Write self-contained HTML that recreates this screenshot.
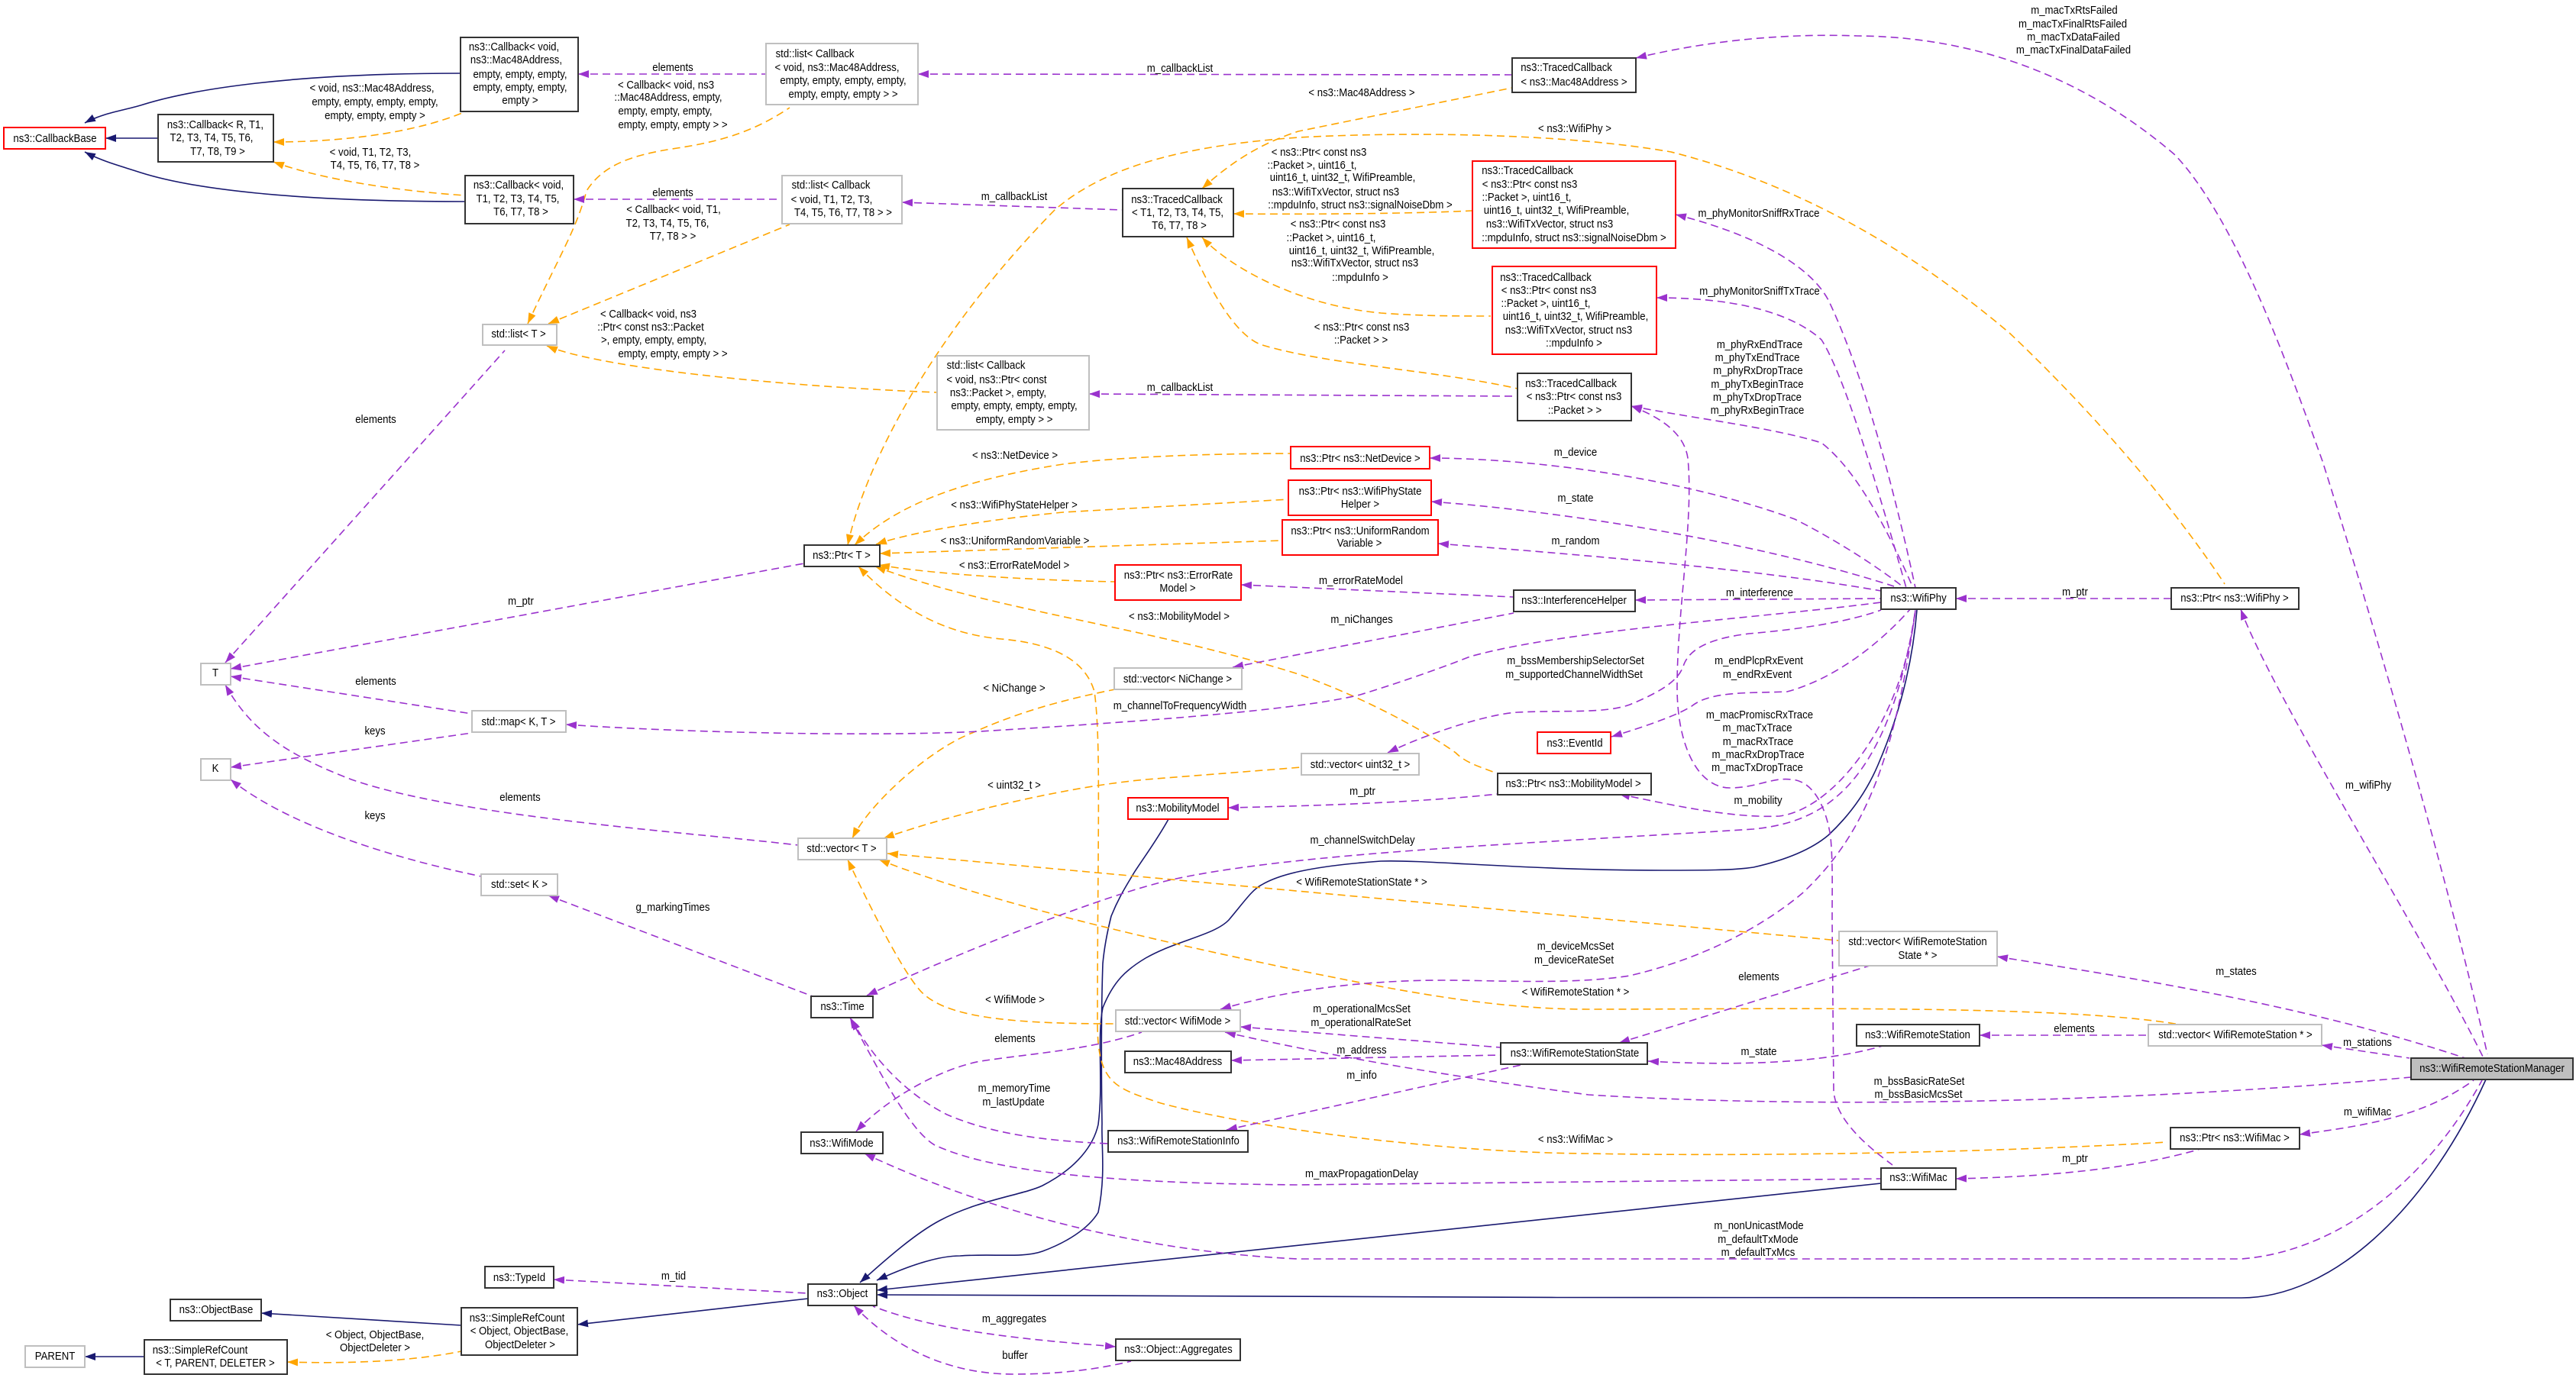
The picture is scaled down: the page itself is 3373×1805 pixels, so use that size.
<!DOCTYPE html>
<html><head><meta charset="utf-8"><title>ns3::WifiRemoteStationManager</title>
<style>
html,body{margin:0;padding:0;background:#fff;width:3373px;height:1805px;overflow:hidden}
svg{display:block}
text{font-family:"Liberation Sans",sans-serif;font-size:15px;fill:#000;text-anchor:middle;transform-box:fill-box;transform-origin:50% 50%;transform:scaleX(.88)}
.e path{fill:none;stroke-width:1.6;stroke-linejoin:round}
.p path{stroke:#9a32cd;stroke-dasharray:10 6}
.o path{stroke:#ffa500;stroke-dasharray:10 6}
.b path{stroke:#191970}
rect{fill:#fff;stroke-width:2}
.k rect{stroke:#333}
.g rect{stroke:#bfbfbf}
.r rect{stroke:#f00}
</style></head><body>
<svg xmlns="http://www.w3.org/2000/svg" width="3373" height="1805" viewBox="0 0 3373 1805">
<defs>
<marker id="mp" markerUnits="userSpaceOnUse" markerWidth="16" markerHeight="12" refX="14" refY="6" orient="auto-start-reverse"><path d="M0,1L14,6L0,11z" fill="#9a32cd"/></marker>
<marker id="mo" markerUnits="userSpaceOnUse" markerWidth="16" markerHeight="12" refX="14" refY="6" orient="auto-start-reverse"><path d="M0,1L14,6L0,11z" fill="#ffa500"/></marker>
<marker id="mb" markerUnits="userSpaceOnUse" markerWidth="16" markerHeight="12" refX="14" refY="6" orient="auto-start-reverse"><path d="M0,1L14,6L0,11z" fill="#191970"/></marker>
</defs>

<g class="e b" marker-start="url(#mb)">
<path d="M111,161C135,148 160,145 184,138C250,117 380,96 603,96"/>
<path d="M138,181L207,181"/>
<path d="M111,199C135,212 160,218 184,226C250,247 380,264 609,264"/>
<path d="M342,1720L604,1736"/>
<path d="M111,1777L189,1777"/>
<path d="M756,1735L1058,1701"/>
<path d="M1148,1690L2463,1550"/>
<path d="M1148,1696C1400,1700 2700,1700 2935,1700C3050,1700 3175,1590 3255,1414"/>
<path d="M1148,1677C1185,1660 1225,1645 1257,1645C1300,1642 1340,1648 1365,1639C1395,1628 1425,1610 1438,1588C1448,1540 1442,1500 1443,1472C1442,1400 1442,1320 1444,1262C1446,1240 1450,1220 1455,1200C1465,1175 1475,1160 1485,1143C1500,1120 1515,1100 1530,1073"/>
<path d="M1126,1680C1165,1645 1200,1615 1230,1599C1280,1572 1340,1565 1365,1553C1410,1530 1432,1500 1438,1473C1445,1420 1436,1360 1444,1320C1458,1285 1475,1270 1500,1255C1540,1232 1590,1225 1609,1205C1630,1180 1640,1165 1652,1159C1672,1147 1710,1135 1808,1128C1870,1126 2000,1140 2177,1140C2230,1140 2270,1140 2296,1136C2345,1125 2375,1110 2394,1094C2425,1065 2445,1035 2459,1002C2490,930 2505,860 2510,799"/>
</g>

<g class="e o" marker-start="url(#mo)">
<path d="M358,186C420,186 530,180 610,146"/>
<path d="M358,212C420,235 520,250 609,256"/>
<path d="M691,424C730,340 755,300 768,250C790,215 830,203 880,195C950,185 990,170 1034,141"/>
<path d="M718,424L1034,294"/>
<path d="M716,453C780,480 1000,505 1227,514"/>
<path d="M1574,247C1620,205 1660,185 1700,172L1980,115"/>
<path d="M1110,714C1130,620 1210,450 1381,275C1450,215 1560,190 1700,180C1850,172 2050,175 2188,199C2350,240 2500,325 2631,436C2720,520 2830,640 2913,765"/>
<path d="M1615,280C1700,281 1850,280 1928,276"/>
<path d="M1574,311C1610,350 1700,400 1808,410C1860,414 1910,414 1952,414"/>
<path d="M1554,311C1580,370 1615,440 1653,452C1740,478 1880,485 1987,509"/>
<path d="M1119,714C1170,665 1250,630 1392,608C1470,598 1590,594 1690,594"/>
<path d="M1147,713C1200,695 1300,680 1392,671L1688,654"/>
<path d="M1152,725L1679,708"/>
<path d="M1151,740C1220,752 1350,760 1460,762"/>
<path d="M1146,742C1300,800 1500,820 1700,883C1790,915 1870,960 1906,986C1920,1000 1940,1005 1960,1013"/>
<path d="M1124,742C1170,790 1230,830 1311,837C1370,842 1420,860 1433,906C1442,970 1437,1100 1437,1340C1437,1420 1460,1425 1520,1445C1650,1480 1900,1510 2080,1511C2300,1515 2600,1510 2838,1496"/>
<path d="M1116,1098C1140,1050 1220,980 1273,960C1340,930 1400,915 1460,903"/>
<path d="M1157,1098C1250,1065 1400,1030 1501,1021L1704,1005"/>
<path d="M1162,1118L2408,1232"/>
<path d="M1151,1126C1300,1185 1550,1240 1700,1271C1820,1295 1950,1322 2080,1322C2300,1322 2700,1315 2854,1342"/>
<path d="M1110,1126C1140,1190 1190,1290 1213,1305C1250,1335 1340,1341 1461,1341"/>
<path d="M376,1784C440,1786 530,1785 604,1770"/>
</g>

<g class="e p" marker-start="url(#mp)">
<path d="M757,97L1003,97"/>
<path d="M751,261L1024,261"/>
<path d="M1202,97L1980,98"/>
<path d="M1181,265L1470,275"/>
<path d="M1426,516L1987,519"/>
<path d="M2142,76C2250,50 2350,44 2432,47C2600,48 2740,110 2848,203C2930,290 3000,490 3041,604C3100,790 3200,1130 3257,1381"/>
<path d="M2194,281C2290,305 2370,345 2395,395C2440,490 2480,640 2508,770"/>
<path d="M2169,390C2260,390 2340,405 2385,445C2420,500 2470,680 2496,770"/>
<path d="M2136,532C2230,550 2320,560 2385,580C2430,615 2470,690 2505,770"/>
<path d="M2136,532C2170,545 2205,565 2210,600C2218,680 2196,800 2196,900C2196,980 2225,1032 2265,1032C2300,1032 2320,1018 2345,1021C2375,1022 2392,1060 2397,1097C2400,1130 2399,1160 2399,1205L2401,1430C2405,1470 2450,1505 2478,1526"/>
<path d="M1872,600C2000,600 2200,625 2350,680C2400,705 2455,740 2491,768"/>
<path d="M1874,657C2050,670 2300,710 2480,768"/>
<path d="M1883,712C2050,725 2300,745 2463,774"/>
<path d="M1625,766L1982,782"/>
<path d="M2141,786L2463,784"/>
<path d="M1614,874L1982,803"/>
<path d="M741,949C900,960 1150,965 1283,958C1500,945 1700,930 1781,910C1840,892 1900,870 1925,860C2050,825 2300,810 2463,789"/>
<path d="M1817,986C1870,960 1950,935 1987,933C2050,930 2100,935 2134,923C2190,900 2200,885 2205,870C2215,845 2250,835 2290,830C2350,825 2420,815 2463,799"/>
<path d="M2110,965C2160,950 2200,935 2215,925C2240,905 2290,908 2340,906C2400,890 2460,845 2502,797"/>
<path d="M2120,1040C2190,1055 2270,1072 2330,1069C2400,1060 2490,950 2508,799"/>
<path d="M1608,1058C1700,1056 1850,1052 1961,1040"/>
<path d="M1135,1304C1250,1250 1450,1170 1540,1151C1700,1117 2000,1105 2296,1086C2370,1078 2470,1050 2508,799"/>
<path d="M1598,1322C1680,1298 1780,1284 1890,1284C1960,1284 2060,1290 2134,1278C2220,1258 2300,1220 2360,1170C2440,1095 2480,1000 2508,799"/>
<path d="M2120,1366L2448,1265"/>
<path d="M1624,1345L1965,1372"/>
<path d="M1604,1352C1750,1385 1900,1410 2080,1434C2300,1448 2700,1452 3157,1411"/>
<path d="M1612,1389L1965,1382"/>
<path d="M1606,1480L1996,1394"/>
<path d="M2158,1390C2230,1394 2370,1398 2465,1370"/>
<path d="M2592,1356L2813,1356"/>
<path d="M3040,1369L3155,1386"/>
<path d="M2615,1253C2750,1275 3000,1310 3228,1386"/>
<path d="M2934,798C2975,910 3170,1220 3252,1386"/>
<path d="M2561,784L2843,784"/>
<path d="M3011,1486C3090,1475 3170,1465 3239,1415"/>
<path d="M2561,1544C2650,1542 2780,1535 2881,1505"/>
<path d="M1132,1511C1300,1590 1500,1640 1700,1649L2935,1649C3050,1640 3170,1560 3250,1415"/>
<path d="M1113,1333C1150,1400 1190,1480 1224,1500C1300,1535 1450,1550 1700,1552L2463,1544"/>
<path d="M1115,1335C1150,1400 1200,1440 1240,1460C1310,1490 1390,1495 1451,1498"/>
<path d="M1121,1482C1160,1440 1230,1400 1284,1390C1350,1380 1430,1375 1495,1352"/>
<path d="M302,876L1053,738"/>
<path d="M302,886L618,935"/>
<path d="M302,1005L618,960"/>
<path d="M295,868L661,459"/>
<path d="M295,897C330,960 380,990 460,1021C600,1070 900,1090 1045,1107"/>
<path d="M302,1021C350,1060 450,1110 630,1148"/>
<path d="M718,1173L1064,1305"/>
<path d="M725,1676L1058,1694"/>
<path d="M1461,1764C1350,1755 1230,1745 1143,1711"/>
<path d="M1118,1710C1160,1755 1230,1800 1327,1800C1390,1800 1440,1793 1481,1783"/>
</g>

<g class="k">
<rect x="207" y="150" width="151" height="62"/>
<rect x="603" y="49" width="154" height="97"/>
<rect x="609" y="230" width="142" height="63"/>
<rect x="1470" y="247" width="145" height="63"/>
<rect x="1980" y="76" width="162" height="45"/>
<rect x="1987" y="489" width="149" height="62"/>
<rect x="1053" y="714" width="99" height="28"/>
<rect x="2463" y="770" width="98" height="28"/>
<rect x="1982" y="773" width="159" height="28"/>
<rect x="1961" y="1013" width="201" height="28"/>
<rect x="2843" y="770" width="167" height="28"/>
<rect x="1062" y="1305" width="81" height="28"/>
<rect x="1473" y="1377" width="139" height="28"/>
<rect x="1451" y="1481" width="183" height="28"/>
<rect x="1049" y="1483" width="107" height="28"/>
<rect x="1058" y="1682" width="90" height="28"/>
<rect x="1461" y="1754" width="163" height="28"/>
<rect x="635" y="1659" width="90" height="28"/>
<rect x="223" y="1702" width="119" height="28"/>
<rect x="604" y="1713" width="152" height="62"/>
<rect x="189" y="1755" width="187" height="45"/>
<rect x="1965" y="1366" width="192" height="28"/>
<rect x="2463" y="1530" width="98" height="28"/>
<rect x="2431" y="1342" width="161" height="28"/>
<rect x="2842" y="1477" width="169" height="28"/>
<rect x="3157" y="1386" width="212" height="28" style="fill:#bfbfbf"/>
</g>
<g class="g">
<rect x="632" y="425" width="97" height="27"/>
<rect x="1003" y="57" width="199" height="80"/>
<rect x="1024" y="230" width="157" height="63"/>
<rect x="1227" y="466" width="199" height="97"/>
<rect x="1459" y="875" width="167" height="28"/>
<rect x="1045" y="1098" width="116" height="28"/>
<rect x="263" y="869" width="39" height="28"/>
<rect x="263" y="994" width="39" height="28"/>
<rect x="618" y="931" width="123" height="28"/>
<rect x="630" y="1145" width="100" height="28"/>
<rect x="1704" y="987" width="154" height="28"/>
<rect x="1461" y="1323" width="163" height="28"/>
<rect x="33" y="1763" width="78" height="28"/>
<rect x="2408" y="1220" width="207" height="45"/>
<rect x="2813" y="1342" width="227" height="28"/>
</g>
<g class="r">
<rect x="5" y="167" width="133" height="28"/>
<rect x="1928" y="211" width="266" height="114"/>
<rect x="1954" y="349" width="215" height="115"/>
<rect x="1690" y="585" width="182" height="29"/>
<rect x="1687" y="629" width="187" height="46"/>
<rect x="1679" y="681" width="204" height="46"/>
<rect x="1460" y="740" width="165" height="46"/>
<rect x="1477" y="1045" width="131" height="28"/>
<rect x="2013" y="959" width="96" height="28"/>
</g>

<g>
<text x="72" y="186">ns3::CallbackBase</text>
<text x="282" y="168">ns3::Callback&lt; R, T1,</text>
<text x="277" y="185">T2, T3, T4, T5, T6,</text>
<text x="285" y="203">T7, T8, T9 &gt;</text>
<text x="673" y="66">ns3::Callback&lt; void,</text>
<text x="676" y="83">ns3::Mac48Address,</text>
<text x="681" y="102">empty, empty, empty,</text>
<text x="681" y="119">empty, empty, empty,</text>
<text x="681" y="136">empty &gt;</text>
<text x="487" y="120">&lt; void, ns3::Mac48Address,</text>
<text x="491" y="138">empty, empty, empty, empty,</text>
<text x="491" y="156">empty, empty, empty &gt;</text>
<text x="485" y="204">&lt; void, T1, T2, T3,</text>
<text x="491" y="221">T4, T5, T6, T7, T8 &gt;</text>
<text x="679" y="247">ns3::Callback&lt; void,</text>
<text x="678" y="265">T1, T2, T3, T4, T5,</text>
<text x="682" y="282">T6, T7, T8 &gt;</text>
<text x="679" y="442">std::list&lt; T &gt;</text>
<text x="492" y="554">elements</text>
<text x="872" y="116">&lt; Callback&lt; void, ns3</text>
<text x="875" y="132">::Mac48Address, empty,</text>
<text x="871" y="150">empty, empty, empty,</text>
<text x="881" y="168">empty, empty, empty &gt; &gt;</text>
<text x="882" y="279">&lt; Callback&lt; void, T1,</text>
<text x="874" y="297">T2, T3, T4, T5, T6,</text>
<text x="881" y="314">T7, T8 &gt; &gt;</text>
<text x="849" y="416">&lt; Callback&lt; void, ns3</text>
<text x="852" y="433">::Ptr&lt; const ns3::Packet</text>
<text x="856" y="450">&gt;, empty, empty, empty,</text>
<text x="881" y="468">empty, empty, empty &gt; &gt;</text>
<text x="881" y="93">elements</text>
<text x="881" y="257">elements</text>
<text x="1067" y="75">std::list&lt; Callback</text>
<text x="1096" y="93">&lt; void, ns3::Mac48Address,</text>
<text x="1104" y="110">empty, empty, empty, empty,</text>
<text x="1104" y="128">empty, empty, empty &gt; &gt;</text>
<text x="1545" y="94">m_callbackList</text>
<text x="1088" y="247">std::list&lt; Callback</text>
<text x="1089" y="266">&lt; void, T1, T2, T3,</text>
<text x="1104" y="283">T4, T5, T6, T7, T8 &gt; &gt;</text>
<text x="1328" y="262">m_callbackList</text>
<text x="1541" y="266">ns3::TracedCallback</text>
<text x="1542" y="283">&lt; T1, T2, T3, T4, T5,</text>
<text x="1544" y="300">T6, T7, T8 &gt;</text>
<text x="1291" y="483">std::list&lt; Callback</text>
<text x="1305" y="502">&lt; void, ns3::Ptr&lt; const</text>
<text x="1307" y="519">ns3::Packet &gt;, empty,</text>
<text x="1328" y="536">empty, empty, empty, empty,</text>
<text x="1328" y="554">empty, empty &gt; &gt;</text>
<text x="1545" y="512">m_callbackList</text>
<text x="1329" y="601">&lt; ns3::NetDevice &gt;</text>
<text x="1727" y="204">&lt; ns3::Ptr&lt; const ns3</text>
<text x="1718" y="221">::Packet &gt;, uint16_t,</text>
<text x="1758" y="237">uint16_t, uint32_t, WifiPreamble,</text>
<text x="1749" y="256">ns3::WifiTxVector, struct ns3</text>
<text x="1781" y="273">::mpduInfo, struct ns3::signalNoiseDbm &gt;</text>
<text x="1752" y="298">&lt; ns3::Ptr&lt; const ns3</text>
<text x="1743" y="316">::Packet &gt;, uint16_t,</text>
<text x="1783" y="333">uint16_t, uint32_t, WifiPreamble,</text>
<text x="1774" y="349">ns3::WifiTxVector, struct ns3</text>
<text x="1781" y="368">::mpduInfo &gt;</text>
<text x="2051" y="93">ns3::TracedCallback</text>
<text x="2061" y="112">&lt; ns3::Mac48Address &gt;</text>
<text x="1783" y="126">&lt; ns3::Mac48Address &gt;</text>
<text x="2062" y="173">&lt; ns3::WifiPhy &gt;</text>
<text x="2000" y="228">ns3::TracedCallback</text>
<text x="2003" y="246">&lt; ns3::Ptr&lt; const ns3</text>
<text x="1999" y="263">::Packet &gt;, uint16_t,</text>
<text x="2038" y="280">uint16_t, uint32_t, WifiPreamble,</text>
<text x="2029" y="298">ns3::WifiTxVector, struct ns3</text>
<text x="2061" y="316">::mpduInfo, struct ns3::signalNoiseDbm &gt;</text>
<text x="2303" y="284">m_phyMonitorSniffRxTrace</text>
<text x="2024" y="368">ns3::TracedCallback</text>
<text x="2028" y="385">&lt; ns3::Ptr&lt; const ns3</text>
<text x="2024" y="402">::Packet &gt;, uint16_t,</text>
<text x="2063" y="419">uint16_t, uint32_t, WifiPreamble,</text>
<text x="2054" y="437">ns3::WifiTxVector, struct ns3</text>
<text x="2061" y="454">::mpduInfo &gt;</text>
<text x="2304" y="386">m_phyMonitorSniffTxTrace</text>
<text x="2304" y="456">m_phyRxEndTrace</text>
<text x="2301" y="473">m_phyTxEndTrace</text>
<text x="2302" y="490">m_phyRxDropTrace</text>
<text x="2301" y="508">m_phyTxBeginTrace</text>
<text x="2301" y="525">m_phyTxDropTrace</text>
<text x="2301" y="542">m_phyRxBeginTrace</text>
<text x="1783" y="433">&lt; ns3::Ptr&lt; const ns3</text>
<text x="1782" y="450">::Packet &gt; &gt;</text>
<text x="2057" y="507">ns3::TracedCallback</text>
<text x="2061" y="524">&lt; ns3::Ptr&lt; const ns3</text>
<text x="2062" y="542">::Packet &gt; &gt;</text>
<text x="2063" y="597">m_device</text>
<text x="1781" y="605">ns3::Ptr&lt; ns3::NetDevice &gt;</text>
<text x="2716" y="18">m_macTxRtsFailed</text>
<text x="2714" y="36">m_macTxFinalRtsFailed</text>
<text x="2715" y="53">m_macTxDataFailed</text>
<text x="2715" y="70">m_macTxFinalDataFailed</text>
<text x="282" y="886">T</text>
<text x="282" y="1011">K</text>
<text x="682" y="792">m_ptr</text>
<text x="492" y="897">elements</text>
<text x="491" y="962">keys</text>
<text x="679" y="950">std::map&lt; K, T &gt;</text>
<text x="681" y="1049">elements</text>
<text x="491" y="1073">keys</text>
<text x="680" y="1163">std::set&lt; K &gt;</text>
<text x="881" y="1193">g_markingTimes</text>
<text x="1328" y="666">&lt; ns3::WifiPhyStateHelper &gt;</text>
<text x="1329" y="713">&lt; ns3::UniformRandomVariable &gt;</text>
<text x="1328" y="745">&lt; ns3::ErrorRateModel &gt;</text>
<text x="1543" y="758">ns3::Ptr&lt; ns3::ErrorRate</text>
<text x="1542" y="775">Model &gt;</text>
<text x="1102" y="732">ns3::Ptr&lt; T &gt;</text>
<text x="1544" y="812">&lt; ns3::MobilityModel &gt;</text>
<text x="1328" y="906">&lt; NiChange &gt;</text>
<text x="1542" y="894">std::vector&lt; NiChange &gt;</text>
<text x="1545" y="929">m_channelToFrequencyWidth</text>
<text x="1328" y="1033">&lt; uint32_t &gt;</text>
<text x="1542" y="1063">ns3::MobilityModel</text>
<text x="1102" y="1116">std::vector&lt; T &gt;</text>
<text x="1781" y="648">ns3::Ptr&lt; ns3::WifiPhyState</text>
<text x="1781" y="665">Helper &gt;</text>
<text x="1781" y="700">ns3::Ptr&lt; ns3::UniformRandom</text>
<text x="1780" y="716">Variable &gt;</text>
<text x="2063" y="657">m_state</text>
<text x="2063" y="713">m_random</text>
<text x="1782" y="765">m_errorRateModel</text>
<text x="2304" y="781">m_interference</text>
<text x="2061" y="791">ns3::InterferenceHelper</text>
<text x="2512" y="788">ns3::WifiPhy</text>
<text x="1783" y="816">m_niChanges</text>
<text x="2063" y="870">m_bssMembershipSelectorSet</text>
<text x="2061" y="888">m_supportedChannelWidthSet</text>
<text x="2303" y="870">m_endPlcpRxEvent</text>
<text x="2301" y="888">m_endRxEvent</text>
<text x="2304" y="941">m_macPromiscRxTrace</text>
<text x="2301" y="958">m_macTxTrace</text>
<text x="2302" y="976">m_macRxTrace</text>
<text x="2302" y="993">m_macRxDropTrace</text>
<text x="2301" y="1010">m_macTxDropTrace</text>
<text x="2062" y="978">ns3::EventId</text>
<text x="1781" y="1006">std::vector&lt; uint32_t &gt;</text>
<text x="2060" y="1031">ns3::Ptr&lt; ns3::MobilityModel &gt;</text>
<text x="1784" y="1041">m_ptr</text>
<text x="2302" y="1053">m_mobility</text>
<text x="1784" y="1105">m_channelSwitchDelay</text>
<text x="1783" y="1160">&lt; WifiRemoteStationState * &gt;</text>
<text x="2717" y="780">m_ptr</text>
<text x="2926" y="788">ns3::Ptr&lt; ns3::WifiPhy &gt;</text>
<text x="3101" y="1033">m_wifiPhy</text>
<text x="680" y="1678">ns3::TypeId</text>
<text x="283" y="1720">ns3::ObjectBase</text>
<text x="677" y="1731">ns3::SimpleRefCount</text>
<text x="680" y="1748">&lt; Object, ObjectBase,</text>
<text x="681" y="1766">ObjectDeleter &gt;</text>
<text x="491" y="1753">&lt; Object, ObjectBase,</text>
<text x="491" y="1770">ObjectDeleter &gt;</text>
<text x="262" y="1773">ns3::SimpleRefCount</text>
<text x="282" y="1790">&lt; T, PARENT, DELETER &gt;</text>
<text x="72" y="1781">PARENT</text>
<text x="882" y="1676">m_tid</text>
<text x="1103" y="1323">ns3::Time</text>
<text x="1329" y="1314">&lt; WifiMode &gt;</text>
<text x="1542" y="1342">std::vector&lt; WifiMode &gt;</text>
<text x="1329" y="1365">elements</text>
<text x="1542" y="1395">ns3::Mac48Address</text>
<text x="1328" y="1430">m_memoryTime</text>
<text x="1327" y="1448">m_lastUpdate</text>
<text x="1543" y="1499">ns3::WifiRemoteStationInfo</text>
<text x="1102" y="1502">ns3::WifiMode</text>
<text x="1103" y="1699">ns3::Object</text>
<text x="1328" y="1732">m_aggregates</text>
<text x="1543" y="1772">ns3::Object::Aggregates</text>
<text x="1329" y="1780">buffer</text>
<text x="2063" y="1244">m_deviceMcsSet</text>
<text x="2061" y="1262">m_deviceRateSet</text>
<text x="2303" y="1284">elements</text>
<text x="2063" y="1304">&lt; WifiRemoteStation * &gt;</text>
<text x="1783" y="1326">m_operationalMcsSet</text>
<text x="1782" y="1344">m_operationalRateSet</text>
<text x="1783" y="1380">m_address</text>
<text x="2062" y="1384">ns3::WifiRemoteStationState</text>
<text x="2303" y="1382">m_state</text>
<text x="1783" y="1413">m_info</text>
<text x="2063" y="1497">&lt; ns3::WifiMac &gt;</text>
<text x="1783" y="1542">m_maxPropagationDelay</text>
<text x="2512" y="1547">ns3::WifiMac</text>
<text x="2303" y="1610">m_nonUnicastMode</text>
<text x="2302" y="1628">m_defaultTxMode</text>
<text x="2302" y="1645">m_defaultTxMcs</text>
<text x="2511" y="1238">std::vector&lt; WifiRemoteStation</text>
<text x="2511" y="1256">State * &gt;</text>
<text x="2511" y="1360">ns3::WifiRemoteStation</text>
<text x="2513" y="1421">m_bssBasicRateSet</text>
<text x="2512" y="1438">m_bssBasicMcsSet</text>
<text x="2928" y="1277">m_states</text>
<text x="2716" y="1352">elements</text>
<text x="2927" y="1360">std::vector&lt; WifiRemoteStation * &gt;</text>
<text x="3100" y="1370">m_stations</text>
<text x="3263" y="1404">ns3::WifiRemoteStationManager</text>
<text x="3100" y="1461">m_wifiMac</text>
<text x="2926" y="1495">ns3::Ptr&lt; ns3::WifiMac &gt;</text>
<text x="2717" y="1522">m_ptr</text>
</g>
</svg>
</body></html>
